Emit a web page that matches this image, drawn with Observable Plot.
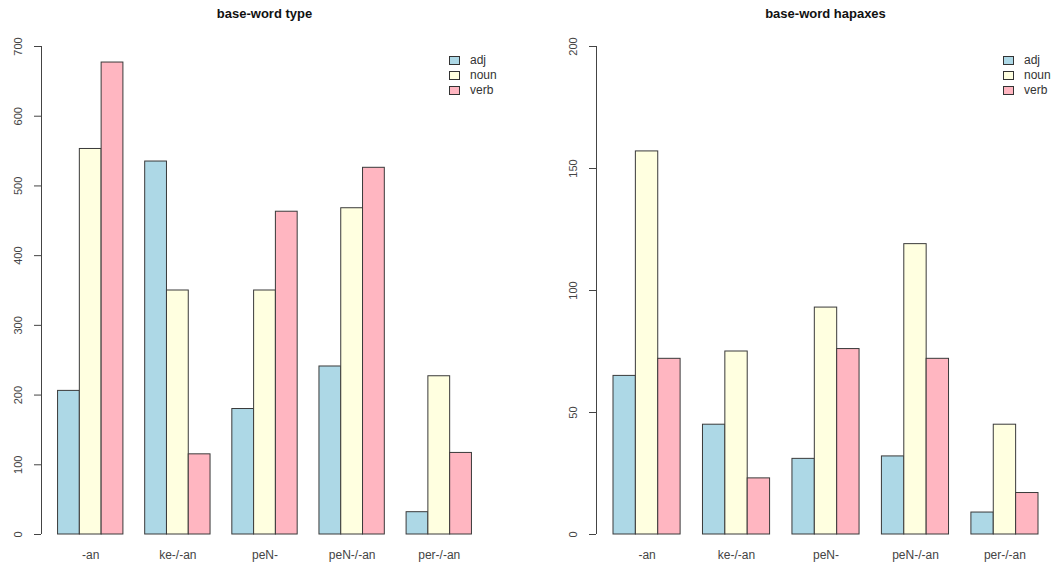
<!DOCTYPE html>
<html>
<head>
<meta charset="utf-8">
<script src="https://cdn.jsdelivr.net/npm/d3@7"></script>
<script src="https://cdn.jsdelivr.net/npm/@observablehq/plot@0.6"></script>
<style>
  html, body { margin: 0; padding: 0; background: #fff; }
  #root { position: relative; width: 1056px; height: 567px; display: flex; font-family: "Liberation Sans", Arial, sans-serif; }
  .panel { position: relative; width: 528px; height: 567px; }
  .panel svg { position: absolute; left: 0; top: 0; }
  .title { position: absolute; top: 6px; font-weight: bold; font-size: 13px; color: #111; text-align: center; white-space: nowrap; }
  .legend { position: absolute; font-size: 12px; color: #333; line-height: 15px; }
  .legend .item { display: flex; align-items: center; height: 15px; }
  .legend .sw { width: 9px; height: 7px; border: 1px solid #333; margin-right: 10px; }
</style>
</head>
<body>
<div id="root"></div>
<script>
// ---- data ----
const categories = ["-an", "ke-/-an", "peN-", "peN-/-an", "per-/-an"];
const types = ["adj", "noun", "verb"];
const colors = ["#ADD8E6", "#FFFFE0", "#FFB6C1"];

const typeAdj  = [206, 535, 180, 241, 32];
const typeNoun = [553, 350, 350, 468, 227];
const typeVerb = [677, 115, 463, 526, 117];
const typeTicks = [0, 100, 200, 300, 400, 500, 600, 700];

const hapAdj  = [65, 45, 31, 32, 9];
const hapNoun = [157, 75, 93, 119, 45];
const hapVerb = [72, 23, 76, 72, 17];
const hapTicks = [0, 50, 100, 150, 200];

// build long table, R barplot(beside=TRUE) slot layout: space=c(0,1)
function buildRows(series) {
  const rows = [];
  categories.forEach((c, ci) => {
    types.forEach((t, ti) => {
      const x1 = ci * (types.length + 1) + ti + 1;
      rows.push({cat: c, type: t, value: series[ti][ci], x1, x2: x1 + 1});
    });
  });
  return rows;
}

const nSlots = categories.length * (types.length + 1);
const xMin = 1 - 0.04 * (nSlots - 1);
const xMax = nSlots + 0.04 * (nSlots - 1);
const centers = categories.map((c, ci) => ci * (types.length + 1) + 1 + types.length / 2);

function panel(opts) {
  const {title, series, ticks, marginLeft, marginRight, legendLeft} = opts;
  const rows = buildRows(series);
  const yMax = ticks[ticks.length - 1];
  const div = document.createElement("div");
  div.className = "panel";
  const chart = Plot.plot({
    width: 528,
    height: 567,
    marginTop: 46,
    marginBottom: 33,
    marginLeft,
    marginRight,
    style: {fontFamily: "'Liberation Sans', Arial, sans-serif", color: "#444", background: "transparent"},
    x: {type: "linear", domain: [xMin, xMax], axis: null},
    y: {type: "linear", domain: [0, yMax], axis: null},
    color: {domain: types, range: colors},
    marks: [
      Plot.rectY(rows, {x1: "x1", x2: "x2", y: "value", fill: "type", stroke: "#3a3a3a", strokeWidth: 1}),
      Plot.ruleX([xMin], {x: d => d, y1: 0, y2: yMax, stroke: "#444", strokeWidth: 1}),
      Plot.axisY({ticks, tickSize: 7, tickRotate: -90, tickPadding: 13, fontSize: 11, tickFormat: d => String(d), label: null, stroke: "#444"}),
      Plot.axisX({ticks: centers, tickSize: 0, tickPadding: 16, fontSize: 12, tickFormat: d => categories[centers.indexOf(d)], label: null})
    ]
  });
  div.appendChild(chart);
  const t = document.createElement("div");
  t.className = "title";
  t.textContent = title;
  t.style.left = marginLeft + "px";
  t.style.width = (528 - marginLeft - marginRight) + "px";
  div.appendChild(t);
  const lg = document.createElement("div");
  lg.className = "legend";
  lg.style.left = legendLeft + "px";
  lg.style.top = "53px";
  types.forEach((ty, i) => {
    const it = document.createElement("div");
    it.className = "item";
    const sw = document.createElement("div");
    sw.className = "sw";
    sw.style.background = colors[i];
    const lab = document.createElement("span");
    lab.textContent = ty;
    it.appendChild(sw);
    it.appendChild(lab);
    lg.appendChild(it);
  });
  div.appendChild(lg);
  return div;
}

const root = document.getElementById("root");
root.appendChild(panel({title: "base-word type", series: [typeAdj, typeNoun, typeVerb], ticks: typeTicks, marginLeft: 41, marginRight: 40, legendLeft: 449}));
root.appendChild(panel({title: "base-word hapaxes", series: [hapAdj, hapNoun, hapVerb], ticks: hapTicks, marginLeft: 68, marginRight: 1, legendLeft: 475}));
</script>
</body>
</html>
